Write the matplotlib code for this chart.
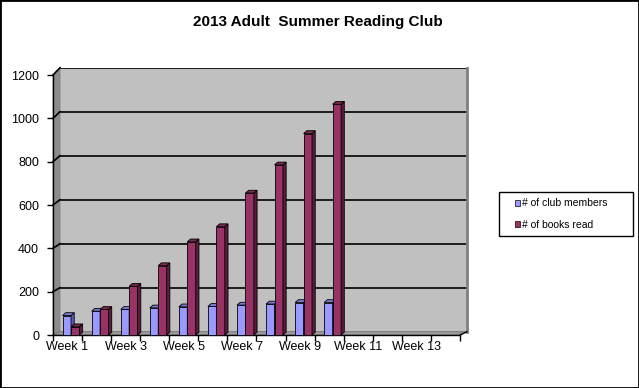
import matplotlib
matplotlib.use('Agg')
import matplotlib.pyplot as plt
import numpy as np
from matplotlib.patches import Polygon, Rectangle, Patch
from matplotlib.lines import Line2D

plt.rcParams['font.family'] = ['Liberation Sans', 'DejaVu Sans']

# ---------------- data ----------------
title = "2013 Adult  Summer Reading Club"
weeks = ["Week 1", "Week 2", "Week 3", "Week 4", "Week 5", "Week 6", "Week 7",
         "Week 8", "Week 9", "Week 10", "Week 11", "Week 12", "Week 13", "Week 14"]
series_names = ["# of club members", "# of books read"]
members = [90, 110, 118, 125, 130, 132, 138, 143, 150, 150, None, None, None, None]
books = [38, 118, 225, 320, 430, 500, 655, 785, 930, 1065, None, None, None, None]
y_ticks = [0, 200, 400, 600, 800, 1000, 1200]

# ---------------- styles ----------------
front_cols = ["#9999FF", "#993366"]
side_cols = ["#5C5CB8", "#5A1E3C"]
top_cols = ["#7A7AD6", "#7A2950"]

W, H = 639, 388
fig = plt.figure(figsize=(W / 100, H / 100), dpi=100)


def px_rect(l, t, r, b):
    return [l / W, 1 - b / H, (r - l) / W, (b - t) / H]


n = len(weeks)
xlim = (-0.5, n - 0.5)
ylim = (0, 1200)

# back wall
axb = fig.add_axes(px_rect(60, 67.7, 467, 331.7), zorder=0)
axb.set_xlim(*xlim)
axb.set_ylim(*ylim)
axb.set_facecolor('#C0C0C0')
for v in y_ticks[1:]:
    axb.axhline(v, color='black', lw=1.2)
for s in axb.spines.values():
    s.set_visible(False)
axb.spines['right'].set_visible(True)
axb.spines['right'].set_color('#808080')
axb.spines['right'].set_linewidth(2)
axb.set_xticks([])
axb.set_yticks([])

# front plane axes
ax = fig.add_axes(px_rect(53, 75, 460, 335), zorder=2)
ax.patch.set_alpha(0)
ax.set_xlim(*xlim)
ax.set_ylim(*ylim)
for s in ['top', 'right']:
    ax.spines[s].set_visible(False)
ax.spines['left'].set_linewidth(1)
ax.spines['bottom'].set_linewidth(1)

inv = fig.transFigure.inverted()


def to_fig(axes, x, y):
    return inv.transform(axes.transData.transform((x, y)))


# left wall and floor
fl0, fl1 = to_fig(ax, xlim[0], 0), to_fig(ax, xlim[0], 1200)
bl0, bl1 = to_fig(axb, xlim[0], 0), to_fig(axb, xlim[0], 1200)
fr0, br0 = to_fig(ax, xlim[1], 0), to_fig(axb, xlim[1], 0)
fig.patches.append(Polygon([fl0, fl1, bl1, bl0], closed=True, transform=fig.transFigure,
                           facecolor='#8C8C8C', edgecolor='#7A7A7A', lw=0.5, zorder=1))
fig.patches.append(Polygon([fl0, fr0, br0, bl0], closed=True, transform=fig.transFigure,
                           facecolor='#9C9C9C', edgecolor='#6E6E6E', lw=0.6, zorder=1))
fig.lines.append(Line2D([fr0[0], br0[0]], [fr0[1], br0[1]], transform=fig.transFigure,
                        color='black', lw=1, zorder=3))
for v in y_ticks[1:]:
    a, b = to_fig(ax, xlim[0], v), to_fig(axb, xlim[0], v)
    fig.lines.append(Line2D([a[0], b[0]], [a[1], b[1]], transform=fig.transFigure,
                            color='black', lw=1.2, zorder=1.5))

# bars with 3D faces
ax_w_px = 460 - 53
ax_h_px = 335 - 75
dxd = 3.2 / (ax_w_px / n)
dyd = 2.8 / (ax_h_px / 1200)
bw = 0.29
offsets = [-0.025, 0.265]
for si, vals in enumerate([members, books]):
    for i, v in enumerate(vals):
        if v is None:
            continue
        xc = i + offsets[si]
        x0, x1 = xc - bw / 2, xc + bw / 2
        ax.bar(xc, v, width=bw, color=front_cols[si], edgecolor='black', lw=0.6,
               zorder=3 + si * 2, clip_on=False)
        side = Polygon([(x1, 0), (x1 + dxd, dyd), (x1 + dxd, v + dyd), (x1, v)], closed=True,
                       facecolor=side_cols[si], edgecolor='black', lw=0.6, zorder=3 + si * 2,
                       clip_on=False)
        top = Polygon([(x0, v), (x0 + dxd, v + dyd), (x1 + dxd, v + dyd), (x1, v)], closed=True,
                      facecolor=top_cols[si], edgecolor='black', lw=0.6, zorder=3 + si * 2,
                      clip_on=False)
        ax.add_patch(side)
        ax.add_patch(top)

# ticks
ax.set_yticks(y_ticks)
ax.set_yticklabels([str(v) for v in y_ticks], fontsize=9)
ax.tick_params(axis='y', direction='out', length=4, width=1, pad=6)
ax.set_xticks(np.arange(-0.5, n, 1.0))
ax.set_xticklabels([])
ax.tick_params(axis='x', which='major', direction='out', length=4, width=1)
ax.set_xticks(np.arange(0, n, 2), minor=True)
ax.set_xticklabels(weeks[::2], minor=True, fontsize=9)
ax.tick_params(axis='x', which='minor', length=0, pad=4)

# title
fig.text(318 / W, 1 - 22 / H, title, ha='center', va='center', fontsize=11, fontweight='bold')

# legend
fig.patches.append(Rectangle((499 / W, 1 - 236 / H), (633 - 499) / W, (236 - 192) / H,
                             transform=fig.transFigure, fill=False, edgecolor='black', lw=1))
handles = [Patch(facecolor=front_cols[i], edgecolor='black', lw=0.5) for i in range(2)]
fig.legend(handles, series_names, loc='center left', bbox_to_anchor=(510 / W, 1 - 214 / H),
           frameon=False, fontsize=7.5, handlelength=0.5, handleheight=0.5,
           handletextpad=0.2, labelspacing=1.1, borderpad=0)

# outer border
fig.patches.append(Rectangle((0, 0), 1, 1, transform=fig.transFigure, fill=False,
                             edgecolor='black', lw=2))

fig.savefig('out.png', dpi=100)
